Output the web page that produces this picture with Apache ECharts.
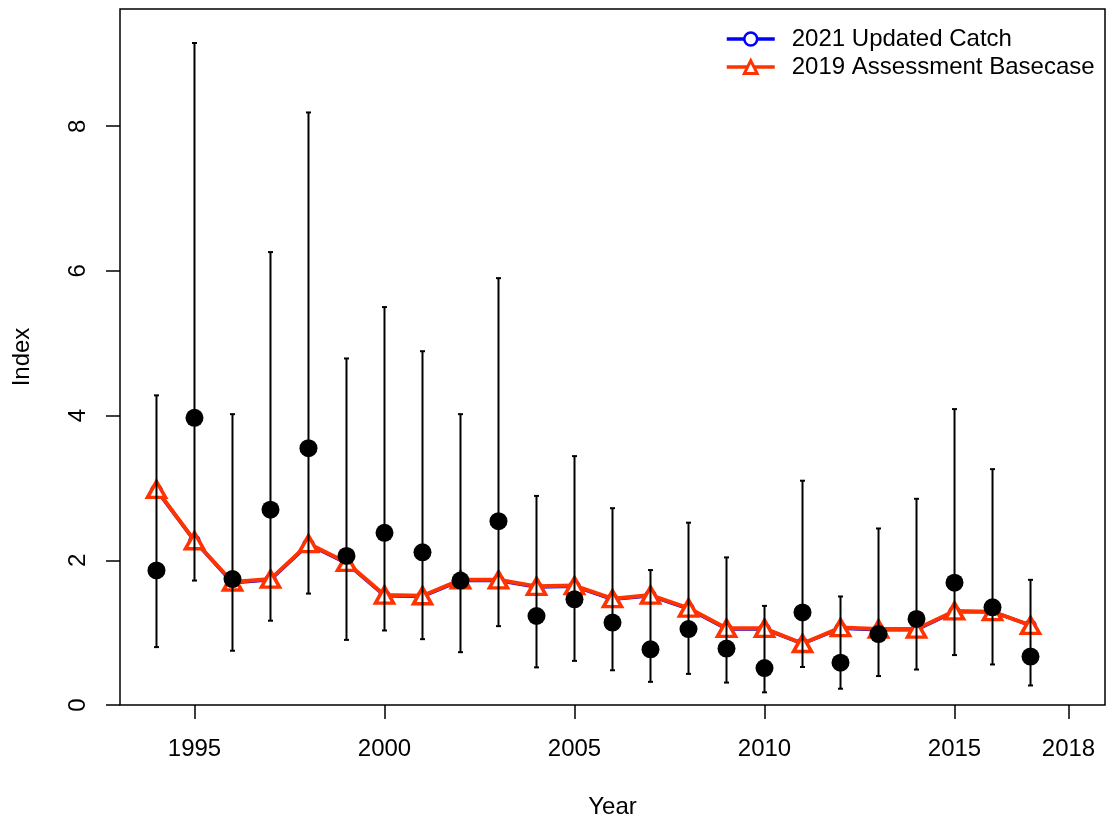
<!DOCTYPE html>
<html>
<head>
<meta charset="utf-8">
<script src="https://cdn.jsdelivr.net/npm/echarts@6/dist/echarts.min.js"></script>
<style>
html,body{margin:0;padding:0;background:#fff;}
#chart{width:1106px;height:819px;}
</style>
</head>
<body>
<div id="chart"></div>
<script>
// ---- data ----
var years = [1994,1995,1996,1997,1998,1999,2000,2001,2002,2003,2004,2005,2006,2007,2008,2009,2010,2011,2012,2013,2014,2015,2016,2017];
var obsIndex = [1.86,3.97,1.74,2.70,3.55,2.06,2.38,2.11,1.72,2.54,1.23,1.46,1.14,0.77,1.05,0.78,0.51,1.28,0.585,0.98,1.19,1.69,1.35,0.67];
var obsUpper = [4.28,9.15,4.02,6.26,8.19,4.79,5.50,4.89,4.02,5.90,2.89,3.44,2.72,1.865,2.52,2.04,1.37,3.10,1.50,2.44,2.85,4.09,3.26,1.73];
var obsLower = [0.80,1.72,0.75,1.165,1.54,0.90,1.03,0.91,0.73,1.09,0.52,0.61,0.48,0.32,0.43,0.31,0.175,0.525,0.225,0.40,0.49,0.69,0.56,0.27];
var updatedCatch = [2.97,2.27,1.69,1.73,2.22,1.96,1.51,1.50,1.72,1.72,1.63,1.64,1.46,1.51,1.33,1.05,1.05,0.85,1.06,1.04,1.04,1.29,1.29,1.10];
var basecase = [2.98,2.27,1.70,1.74,2.23,1.97,1.52,1.51,1.73,1.73,1.64,1.65,1.47,1.52,1.34,1.06,1.06,0.85,1.07,1.05,1.05,1.30,1.29,1.10];
var xTicks = [1995,2000,2005,2010,2015,2018];
var yTicks = [0,2,4,6,8];
var seriesNames = ['2021 Updated Catch','2019 Assessment Basecase'];

var FONT = '"Liberation Sans", Arial, sans-serif';
var BLUE = '#0000ff', RED = '#ff3300';

function pairs(a){ return years.map(function(y,i){ return [y,a[i]]; }); }
var errData = years.map(function(y,i){ return [y, obsLower[i], obsUpper[i]]; });

var chart = echarts.init(document.getElementById('chart'), null, {renderer:'canvas'});
chart.setOption({
  animation:false,
  backgroundColor:'#fff',
  textStyle:{fontFamily:FONT,color:'#000'},
  grid:{left:120,top:9,right:1,bottom:114,show:true,borderColor:'#000',borderWidth:1.5,backgroundColor:'transparent',
        outerBoundsMode:'none',containLabel:false},
  legend:{
    orient:'vertical', left:720, top:20, itemWidth:48, itemHeight:16, itemGap:0,
    data:[
      {name:seriesNames[0], lineStyle:{color:BLUE,width:3.5}, itemStyle:{color:'#fff',borderColor:BLUE,borderWidth:2.5}},
      {name:seriesNames[1], lineStyle:{color:RED,width:3.5}, itemStyle:{color:'#fff',borderColor:RED,borderWidth:3}}
    ],
    textStyle:{fontFamily:FONT,fontSize:24,color:'#000',lineHeight:28,padding:[0,0,0,12]}
  },
  xAxis:{
    type:'value', min:1993.04, max:2018.96,
    splitLine:{show:false},
    axisLine:{show:false},
    axisTick:{show:true,inside:false,length:14,lineStyle:{color:'#000',width:1.5},customValues:xTicks},
    axisLabel:{show:true,margin:32,fontSize:24,color:'#000',fontFamily:FONT,customValues:xTicks,formatter:function(v){return String(v);}},
    name:'Year', nameLocation:'middle', nameGap:90,
    nameTextStyle:{fontSize:24,color:'#000',fontFamily:FONT}
  },
  yAxis:{
    type:'value', min:0, max:9.62,
    splitLine:{show:false},
    axisLine:{show:false},
    axisTick:{show:true,inside:false,length:14,lineStyle:{color:'#000',width:1.5},customValues:yTicks},
    axisLabel:{show:true,rotate:90,margin:30,fontSize:24,color:'#000',fontFamily:FONT,customValues:yTicks,formatter:function(v){return String(v);}},
    name:'Index', nameLocation:'middle', nameGap:86, nameRotate:90,
    nameTextStyle:{fontSize:24,color:'#000',fontFamily:FONT}
  },
  series:[
    {
      name:seriesNames[0], type:'line', data:pairs(updatedCatch), z:2,
      symbol:'circle', symbolSize:10,
      lineStyle:{color:BLUE,width:3.5},
      itemStyle:{color:'#fff',borderColor:BLUE,borderWidth:2.5}
    },
    {
      name:seriesNames[1], type:'line', data:pairs(basecase), z:3,
      symbol:'triangle', symbolSize:[18,16],
      lineStyle:{color:RED,width:4},
      itemStyle:{color:'#fff',borderColor:RED,borderWidth:3.5}
    },
    {
      type:'custom', data:errData, z:4,
      renderItem:function(params,api){
        var x = api.value(0);
        var lo = api.coord([x, api.value(1)]);
        var hi = api.coord([x, api.value(2)]);
        var st = {stroke:'#000',lineWidth:2};
        return {type:'group',children:[
          {type:'line',shape:{x1:lo[0],y1:lo[1],x2:hi[0],y2:hi[1]},style:st},
          {type:'line',shape:{x1:lo[0]-2.5,y1:lo[1],x2:lo[0]+2.5,y2:lo[1]},style:st},
          {type:'line',shape:{x1:hi[0]-2.5,y1:hi[1],x2:hi[0]+2.5,y2:hi[1]},style:st}
        ]};
      }
    },
    {
      type:'scatter', data:pairs(obsIndex), z:5,
      symbol:'circle', symbolSize:18,
      itemStyle:{color:'#000',opacity:1}
    }
  ]
});
</script>
</body>
</html>
